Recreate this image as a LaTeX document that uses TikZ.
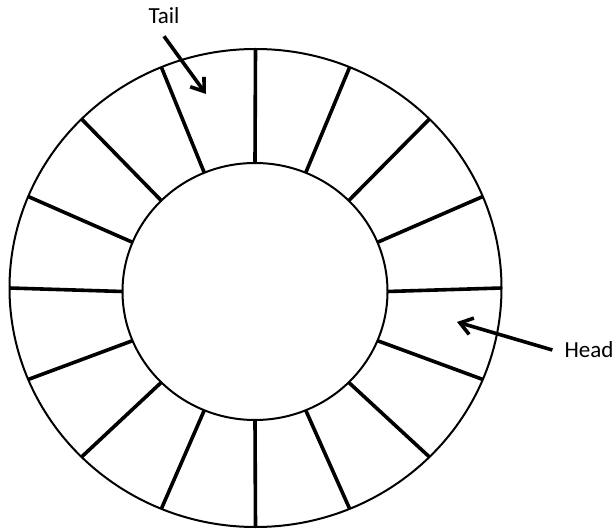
\documentclass[tikz,border=0pt]{standalone}
\usepackage{fontspec}
\setmainfont{Carlito}
\usetikzlibrary{arrows.meta,calc}
\definecolor{RingInk}{RGB}{0,0,0}
\tikzset{
  ring/wall/.style={draw=RingInk, line width=2pt},
  ring/spoke/.style={draw=RingInk, line width=3.6pt},
  ring/arrow/.style={-{Straight Barb[length=12pt,width=17pt]}, line width=3.6pt, draw=RingInk},
  ring/label/.style={font=\fontsize{23}{27}\selectfont, text=RingInk, inner sep=12pt}
}

\begin{document}
\begin{tikzpicture}[x=1pt,y=-1pt]
  \useasboundingbox[fill=white] (0,0) rectangle (616,529);
  \coordinate (outerc) at (255.5,288);
  \coordinate (innerc) at (255,291.5);
  % buffer ring
  \draw[ring/wall] (outerc) ellipse [x radius=246, y radius=239];
  \draw[ring/wall] (innerc) ellipse [x radius=132.5, y radius=128.5];
  \foreach \a in {0,22.5,...,337.5}
    \draw[ring/spoke] ($(innerc)+(\a:132.5 and 128.5)$) -- ($(outerc)+(\a:246 and 239)$);
  % pointers
  \node[ring/label] (tail) at (164,16) {Tail};
  \node[ring/label] (head) at (589,350) {Head};
  \coordinate (tailtip) at (206,94);
  \coordinate (headtip) at (457,322);
  \draw[ring/arrow] (tail.south) -- (tailtip);
  \draw[ring/arrow] (head.west) -- (headtip);
\end{tikzpicture}
\end{document}
